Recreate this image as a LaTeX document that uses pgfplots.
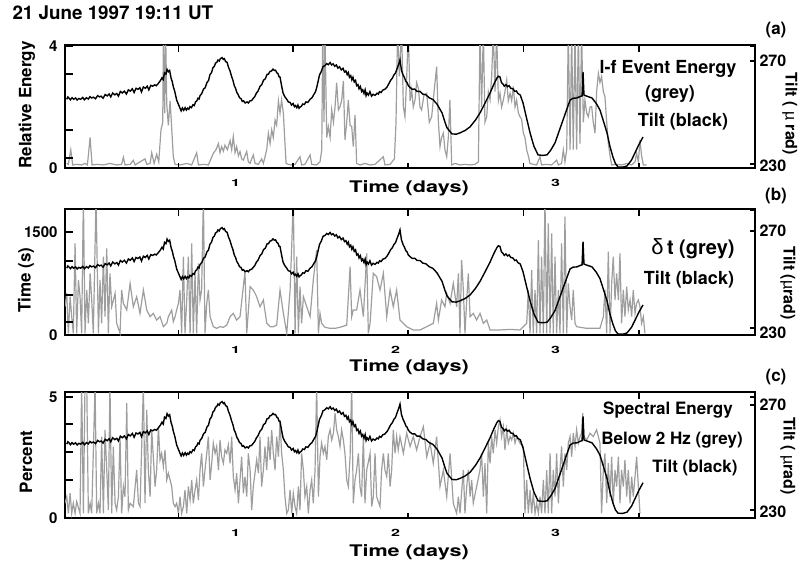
\documentclass[border=0pt]{standalone}
\usepackage{fontspec}
\setmainfont{TeX Gyre Heros}
\newfontfamily\symf{Liberation Sans}
\usepackage{graphicx}
\usepackage{pgfplots}
\usepackage{pgfplotstable}
\pgfplotsset{compat=1.18}

\definecolor{lgrey}{RGB}{158,158,158}

% tilt (black), microradians
\pgfplotstableread{
day tilt
-0.055 255.4
-0.048 256.3
-0.040 255.8
-0.032 255.2
-0.022 256.0
-0.012 255.4
0.000 255.9
0.010 255.1
0.020 255.7
0.032 255.4
0.045 256.1
0.055 255.2
0.068 256.0
0.080 255.5
0.090 256.4
0.100 255.9
0.112 256.2
0.125 255.6
0.138 256.8
0.150 256.3
0.160 256.6
0.172 255.8
0.185 257.2
0.198 256.7
0.210 257.4
0.220 256.3
0.232 257.8
0.245 257.1
0.258 257.6
0.268 256.6
0.280 258.4
0.292 257.8
0.305 258.5
0.318 257.4
0.330 259.0
0.342 258.5
0.355 259.4
0.366 258.0
0.378 259.6
0.390 259.2
0.402 259.8
0.412 258.2
0.424 260.1
0.436 259.6
0.448 260.4
0.458 259.0
0.470 260.7
0.482 260.4
0.495 260.9
0.505 260.6
0.515 261.3
0.530 262.5
0.540 263.6
0.548 262.9
0.556 265.5
0.565 265.0
0.572 266.8
0.580 265.9
0.588 266.4
0.597 263.5
0.605 262.0
0.611 260.2
0.620 258.4
0.632 255.1
0.642 253.6
0.653 252.0
0.660 251.0
0.668 252.1
0.676 251.2
0.685 252.2
0.693 251.3
0.700 252.0
0.708 251.6
0.715 252.6
0.724 252.2
0.734 253.3
0.742 253.0
0.750 254.4
0.758 254.8
0.765 255.8
0.772 255.5
0.778 256.8
0.789 257.6
0.800 259.3
0.810 259.8
0.822 261.9
0.831 262.5
0.840 264.8
0.850 265.6
0.859 267.5
0.867 267.9
0.875 269.2
0.883 269.5
0.890 270.4
0.898 270.0
0.905 270.9
0.916 271.3
0.924 270.6
0.930 270.9
0.938 269.8
0.947 269.5
0.956 267.6
0.965 266.3
0.975 264.2
0.984 262.6
0.992 260.6
1.000 259.6
1.008 258.0
1.016 257.2
1.025 256.0
1.035 255.6
1.042 254.6
1.050 254.8
1.060 254.0
1.072 254.4
1.080 254.0
1.090 254.8
1.100 254.9
1.109 255.6
1.120 256.4
1.130 257.7
1.141 258.6
1.153 260.3
1.164 261.0
1.175 262.7
1.186 263.2
1.197 264.9
1.206 265.0
1.215 266.0
1.225 266.2
1.234 266.9
1.242 266.4
1.250 266.5
1.258 265.5
1.265 265.2
1.272 264.0
1.278 263.9
1.288 260.5
1.297 257.8
1.308 256.4
1.320 255.4
1.330 254.4
1.341 254.2
1.350 253.2
1.360 253.8
1.368 252.6
1.375 253.0
1.383 252.2
1.390 253.2
1.397 252.0
1.403 252.4
1.412 252.8
1.420 253.6
1.430 253.4
1.440 254.4
1.452 254.2
1.466 255.4
1.478 256.0
1.490 257.3
1.500 258.3
1.509 260.3
1.517 262.5
1.525 264.7
1.536 266.0
1.547 267.9
1.558 268.2
1.570 269.0
1.580 268.6
1.591 269.4
1.600 268.5
1.610 268.9
1.620 268.0
1.630 268.5
1.640 267.3
1.650 267.8
1.661 266.6
1.672 267.2
1.681 265.8
1.690 266.2
1.698 264.8
1.705 265.6
1.712 263.8
1.720 264.4
1.727 262.8
1.734 263.8
1.742 262.0
1.750 262.6
1.757 260.6
1.765 261.0
1.772 259.4
1.780 260.3
1.788 258.4
1.795 259.0
1.803 257.6
1.810 259.0
1.816 256.8
1.822 257.8
1.831 257.0
1.840 258.3
1.850 256.6
1.860 257.3
1.872 256.9
1.884 257.7
1.893 257.4
1.900 258.3
1.910 258.0
1.920 258.9
1.933 259.2
1.947 260.1
1.958 261.3
1.970 262.7
1.980 263.4
1.990 264.7
2.000 265.4
2.009 267.0
2.020 268.8
2.028 270.4
2.037 266.5
2.047 264.7
2.056 263.6
2.065 262.2
2.072 261.8
2.080 260.6
2.091 259.9
2.105 259.2
2.120 259.3
2.135 258.4
2.153 258.4
2.170 257.4
2.190 257.1
2.210 256.0
2.234 255.3
2.260 253.5
2.291 250.2
2.310 246.5
2.322 244.5
2.353 242.2
2.380 242.1
2.403 242.6
2.435 243.5
2.466 244.9
2.500 247.5
2.528 250.2
2.560 254.0
2.591 257.8
2.615 261.2
2.634 263.5
2.643 264.2
2.653 263.9
2.662 261.8
2.672 261.2
2.680 260.4
2.690 261.0
2.700 260.2
2.710 260.6
2.720 259.6
2.734 259.4
2.745 258.4
2.755 258.6
2.765 257.6
2.780 257.0
2.797 254.0
2.820 248.0
2.841 242.6
2.865 237.5
2.891 234.2
2.920 234.0
2.947 234.2
2.970 236.0
2.997 238.8
3.020 242.8
3.047 247.5
3.070 251.5
3.091 255.1
3.110 255.8
3.134 255.9
3.155 256.5
3.166 256.7
3.172 265.8
3.178 257.0
3.200 256.5
3.228 255.9
3.255 253.8
3.278 251.3
3.300 247.0
3.322 242.6
3.340 237.5
3.359 233.4
3.375 230.8
3.391 229.6
3.420 229.5
3.447 230.0
3.475 232.2
3.497 235.0
3.520 238.0
3.547 241.0
}\tilt

% l-f event energy (grey), relative
\pgfplotstableread{
day val
-0.055 0.15
-0.045 0.12
-0.030 0.60
-0.018 0.10
0.007 0.12
0.038 0.10
0.059 0.15
0.074 0.10
0.091 1.00
0.103 0.10
0.132 0.12
0.174 0.10
0.215 0.15
0.257 0.10
0.288 0.12
0.299 0.35
0.309 0.10
0.341 0.12
0.361 0.25
0.372 0.10
0.403 0.20
0.434 0.30
0.445 0.12
0.466 0.15
0.476 0.50
0.491 0.15
0.507 0.45
0.520 0.20
0.534 1.25
0.545 1.50
0.549 4.50
0.557 1.80
0.563 4.50
0.570 2.10
0.580 1.40
0.591 2.20
0.601 1.30
0.611 0.37
0.622 0.12
0.653 0.10
0.695 0.15
0.726 0.10
0.757 0.50
0.768 0.10
0.799 0.12
0.830 0.10
0.861 0.48
0.878 0.60
0.893 0.80
0.903 0.50
0.913 0.70
0.924 0.55
0.934 0.75
0.949 0.60
0.966 0.90
0.976 0.60
0.986 1.03
0.997 0.50
1.007 0.70
1.018 0.40
1.028 0.54
1.038 0.30
1.049 0.26
1.059 0.40
1.070 0.54
1.080 0.20
1.091 0.15
1.101 0.30
1.111 0.43
1.122 0.15
1.143 0.12
1.163 0.30
1.174 0.15
1.195 0.60
1.205 1.14
1.216 0.80
1.226 1.25
1.236 1.00
1.247 1.57
1.257 1.40
1.268 2.20
1.278 1.80
1.288 2.23
1.299 1.79
1.309 0.80
1.316 0.15
1.341 0.10
1.372 0.12
1.403 0.37
1.413 0.10
1.434 0.12
1.466 0.43
1.476 0.12
1.507 0.10
1.528 0.20
1.539 0.60
1.545 4.50
1.553 1.50
1.559 4.50
1.570 1.00
1.580 1.36
1.591 1.00
1.601 1.90
1.612 1.50
1.622 2.00
1.632 2.80
1.643 1.90
1.653 2.01
1.663 2.20
1.674 2.85
1.684 0.92
1.695 1.50
1.705 2.23
1.716 1.40
1.726 1.36
1.736 0.70
1.747 1.74
1.757 0.15
1.778 0.10
1.809 0.15
1.841 0.10
1.872 0.12
1.924 0.37
1.934 0.10
1.966 0.12
1.993 0.30
2.003 1.50
2.013 4.50
2.024 3.00
2.028 3.50
2.038 4.50
2.049 2.00
2.059 1.68
2.070 3.00
2.080 4.50
2.091 2.20
2.101 2.56
2.111 2.00
2.122 2.23
2.132 2.80
2.143 2.61
2.153 2.00
2.163 1.90
2.178 2.40
2.195 2.45
2.211 1.50
2.226 1.68
2.241 2.50
2.257 3.32
2.268 1.50
2.278 0.70
2.288 1.00
2.299 1.14
2.309 0.60
2.320 0.37
2.330 1.00
2.340 2.23
2.351 0.10
2.372 0.15
2.403 0.10
2.434 0.12
2.466 0.10
2.497 0.12
2.518 0.20
2.528 4.50
2.538 2.00
2.549 4.50
2.559 1.50
2.570 1.68
2.580 2.50
2.591 2.23
2.601 3.00
2.611 4.50
2.622 2.50
2.632 4.50
2.643 2.20
2.653 2.45
2.663 2.00
2.674 2.23
2.684 2.50
2.695 2.88
2.705 2.20
2.716 2.45
2.726 2.20
2.736 2.67
2.747 2.00
2.757 2.23
2.768 1.80
2.778 1.68
2.788 1.60
2.799 1.14
2.809 1.00
2.820 0.59
2.830 0.40
2.840 0.15
2.861 0.12
2.882 0.10
2.903 0.37
2.913 0.10
2.945 0.12
2.976 0.10
3.007 0.26
3.018 0.10
3.038 0.15
3.049 0.59
3.059 0.20
3.070 0.60
3.080 4.50
3.091 0.60
3.101 4.50
3.111 0.60
3.122 4.50
3.132 0.60
3.143 4.50
3.153 0.80
3.163 4.50
3.174 1.50
3.184 2.23
3.195 1.80
3.205 1.68
3.216 2.00
3.226 2.01
3.236 1.50
3.247 1.14
3.257 2.50
3.268 3.10
3.278 2.80
3.288 3.00
3.299 2.50
3.309 2.34
3.320 1.50
3.330 0.81
3.341 0.40
3.351 0.10
3.382 0.12
3.413 0.10
3.445 0.15
3.476 0.10
3.497 0.20
3.507 0.48
3.518 0.20
3.528 0.92
3.538 0.40
3.549 0.10
3.570 0.10
}\energy

% delta t (grey), seconds
\pgfplotstableread{
day val
-0.066 412
-0.055 607
-0.045 24
-0.034 558
-0.024 267
-0.014 24
-0.003 1335
0.007 24
0.018 801
0.028 558
0.038 24
0.049 2000
0.059 24
0.070 655
0.080 170
0.091 898
0.101 510
0.111 24
0.128 2000
0.143 24
0.153 801
0.163 170
0.174 1140
0.184 267
0.195 1262
0.205 24
0.215 898
0.226 412
0.247 607
0.257 170
0.278 24
0.288 655
0.299 461
0.320 364
0.341 752
0.361 412
0.382 558
0.403 315
0.424 655
0.445 364
0.466 267
0.486 315
0.507 218
0.528 267
0.549 121
0.570 170
0.580 267
0.591 315
0.601 364
0.611 194
0.622 267
0.632 364
0.643 461
0.653 655
0.663 24
0.674 1140
0.684 24
0.695 510
0.705 1140
0.716 24
0.726 1335
0.736 24
0.747 898
0.757 24
0.768 1043
0.778 510
0.788 655
0.799 2000
0.809 24
0.820 461
0.830 655
0.841 267
0.861 121
0.882 97
0.903 121
0.924 112
0.945 145
0.966 267
0.986 315
1.007 218
1.028 267
1.059 922
1.070 24
1.091 704
1.111 655
1.132 558
1.153 412
1.174 510
1.195 170
1.216 121
1.236 121
1.257 145
1.278 655
1.299 315
1.320 24
1.341 655
1.351 1286
1.361 2000
1.372 24
1.382 1140
1.393 24
1.403 704
1.413 170
1.424 558
1.445 412
1.466 267
1.486 801
1.507 1237
1.518 24
1.528 315
1.538 170
1.559 112
1.591 97
1.622 97
1.653 112
1.695 145
1.716 995
1.726 267
1.736 364
1.757 364
1.778 655
1.799 267
1.820 1189
1.830 24
1.841 170
1.861 898
1.882 849
1.903 655
1.924 898
1.945 267
1.966 655
1.986 412
2.007 655
2.028 218
2.070 121
2.111 73
2.153 73
2.195 121
2.236 170
2.257 461
2.268 218
2.288 510
2.309 412
2.320 607
2.341 461
2.361 752
2.382 412
2.393 898
2.403 24
2.413 1092
2.424 655
2.434 24
2.445 510
2.455 898
2.466 267
2.486 315
2.507 218
2.528 315
2.549 170
2.570 218
2.591 73
2.653 73
2.716 82
2.778 73
2.820 170
2.830 655
2.841 24
2.851 946
2.861 24
2.872 655
2.882 24
2.893 1383
2.903 24
2.913 1140
2.924 24
2.934 2000
2.945 24
2.955 1626
2.966 24
2.976 1480
2.986 24
2.997 1140
3.007 24
3.018 655
3.028 24
3.038 1335
3.049 24
3.059 1723
3.070 24
3.080 752
3.091 412
3.101 218
3.111 655
3.122 170
3.132 121
3.195 97
3.278 97
3.299 267
3.309 655
3.320 24
3.330 1213
3.341 24
3.351 752
3.361 1140
3.372 510
3.382 898
3.393 510
3.403 1189
3.413 170
3.424 655
3.434 267
3.445 704
3.455 364
3.466 510
3.476 267
3.486 655
3.497 315
3.507 461
3.518 510
3.528 412
3.538 170
3.549 267
3.559 24
}\deltat

% spectral energy below 2 Hz (grey), percent
\pgfplotstableread{
day val
-0.066 0.61
-0.055 0.88
-0.045 0.19
-0.034 1.02
-0.024 0.19
-0.014 0.61
-0.003 0.19
0.007 0.68
0.028 0.19
0.038 5.5
0.049 0.19
0.059 5.5
0.070 5.5
0.080 0.19
0.091 0.61
0.101 0.19
0.122 5.5
0.132 0.19
0.143 0.61
0.153 0.19
0.163 3.36
0.174 0.19
0.184 3.64
0.195 1.98
0.205 0.33
0.215 5.5
0.226 0.19
0.236 2.95
0.247 0.61
0.257 0.33
0.268 0.88
0.278 3.36
0.288 0.19
0.299 1.30
0.309 0.88
0.320 4.74
0.330 0.33
0.341 0.61
0.361 0.47
0.382 1.98
0.393 0.61
0.403 0.47
0.424 5.5
0.434 0.61
0.445 4.46
0.455 1.98
0.466 0.88
0.476 3.64
0.486 2.53
0.497 1.30
0.507 1.98
0.518 3.77
0.528 2.40
0.538 2.67
0.549 2.12
0.559 2.81
0.570 1.57
0.580 1.85
0.591 1.57
0.601 1.30
0.611 0.61
0.622 0.47
0.632 0.61
0.643 0.19
0.653 0.88
0.663 0.19
0.674 0.47
0.684 1.16
0.695 0.19
0.705 1.30
0.716 0.74
0.726 1.57
0.736 0.61
0.747 1.16
0.757 1.57
0.768 0.74
0.778 1.98
0.788 2.67
0.799 1.30
0.809 1.98
0.820 2.67
0.830 3.36
0.841 1.57
0.851 2.26
0.861 3.09
0.872 2.67
0.882 2.95
0.893 1.98
0.903 3.22
0.913 2.53
0.924 2.26
0.934 2.81
0.945 2.67
0.955 3.02
0.966 2.26
0.976 3.36
0.986 1.71
0.997 1.16
1.007 1.85
1.018 0.61
1.028 1.57
1.038 2.53
1.049 1.02
1.059 1.71
1.070 0.88
1.080 2.67
1.091 1.98
1.101 0.33
1.111 1.30
1.132 2.40
1.143 1.85
1.153 3.36
1.163 1.30
1.174 1.98
1.184 2.95
1.195 1.98
1.205 3.36
1.216 2.40
1.226 3.64
1.236 2.67
1.247 1.98
1.257 3.36
1.268 2.53
1.278 4.05
1.288 2.67
1.299 1.98
1.309 0.88
1.320 0.19
1.330 0.33
1.341 1.16
1.351 0.19
1.361 1.02
1.372 0.47
1.382 0.19
1.393 1.30
1.403 0.33
1.413 2.67
1.424 1.98
1.434 0.88
1.445 1.30
1.455 0.19
1.466 1.16
1.476 1.57
1.486 0.61
1.497 1.98
1.507 5.5
1.518 0.88
1.528 2.53
1.538 3.09
1.549 2.67
1.559 2.95
1.570 2.40
1.580 3.36
1.591 3.64
1.601 3.22
1.612 3.50
1.622 4.33
1.632 3.64
1.643 3.36
1.653 2.95
1.663 3.64
1.674 3.22
1.684 2.67
1.695 1.57
1.705 1.30
1.716 2.53
1.726 5.5
1.736 0.61
1.747 1.57
1.757 1.98
1.768 2.67
1.778 1.30
1.788 0.88
1.799 3.36
1.809 0.61
1.820 1.98
1.841 2.67
1.851 0.47
1.861 0.88
1.872 2.67
1.882 0.88
1.903 0.47
1.913 1.98
1.924 2.67
1.934 1.98
1.945 1.71
1.955 2.67
1.966 1.30
1.976 1.98
1.986 3.64
1.997 2.67
2.007 3.36
2.017 2.81
2.028 3.36
2.049 2.67
2.070 3.50
2.091 2.95
2.111 3.36
2.132 2.81
2.153 3.36
2.174 3.77
2.195 2.53
2.216 3.09
2.236 2.26
2.257 3.36
2.278 1.30
2.299 1.98
2.320 0.88
2.341 2.67
2.361 0.61
2.382 0.19
2.393 0.88
2.403 0.19
2.424 1.98
2.434 0.19
2.445 1.30
2.455 1.98
2.466 0.88
2.476 1.57
2.486 0.61
2.507 1.30
2.528 1.98
2.538 2.67
2.549 0.88
2.559 2.26
2.570 0.19
2.580 3.09
2.591 2.26
2.601 3.36
2.611 2.67
2.622 3.64
2.632 3.09
2.643 3.77
2.653 4.05
2.663 3.36
2.674 3.77
2.684 2.81
2.695 3.64
2.705 3.09
2.716 3.36
2.726 3.22
2.736 3.50
2.747 3.09
2.757 3.36
2.778 3.09
2.799 2.95
2.809 0.19
2.820 1.57
2.830 0.19
2.841 1.16
2.851 0.19
2.861 1.02
2.872 0.19
2.882 0.61
2.893 0.19
2.903 0.88
2.913 0.19
2.924 1.57
2.934 0.19
2.945 1.98
2.955 0.19
2.966 2.67
2.976 0.19
2.986 1.98
2.997 0.88
3.007 2.67
3.018 0.61
3.028 1.98
3.038 2.95
3.049 1.30
3.059 2.67
3.070 1.98
3.080 3.09
3.091 3.36
3.101 2.53
3.111 3.50
3.122 2.95
3.132 3.64
3.143 3.09
3.153 3.36
3.163 3.50
3.170 4.33
3.178 3.36
3.195 3.22
3.216 3.50
3.236 3.36
3.257 3.64
3.278 3.09
3.288 0.19
3.299 1.98
3.309 2.67
3.320 0.61
3.330 2.26
3.341 0.88
3.351 2.53
3.361 0.61
3.372 1.98
3.382 1.30
3.393 2.53
3.403 0.61
3.413 1.98
3.424 1.30
3.434 2.40
3.445 0.88
3.455 1.98
3.466 0.61
3.476 1.71
3.486 0.88
3.497 1.71
3.507 2.53
3.518 1.30
3.528 0.19
}\spectral

\pgfplotsset{
  panel/.style={
    width=690pt, scale only axis,
    xmin=-0.066, xmax=4.247,
    clip mode=individual,
    tick align=inside, xtick pos=both, ytick pos=left,
    xtick={0.6425,1.361,2.08,2.80,3.52}, xticklabels={},
    tickwidth=0pt, subtickwidth=0pt,
    axis line style={line width=1.8pt},
    yticklabel style={font=\fontsize{15}{15}\selectfont, xshift=-4pt},
    /pgf/number format/assume math mode=true,
    /pgf/number format/1000 sep={},
  },
  tiltax/.style={
    width=690pt, scale only axis,
    xmin=-0.066, xmax=4.247,
    axis x line=none, axis y line*=right, tick align=inside,
    ytick={230,270}, tickwidth=0pt,
    axis line style={line width=1.8pt},
    yticklabel style={font=\fontsize{16}{16}\selectfont, xshift=1pt},
    /pgf/number format/assume math mode=true,
  },
  grey/.style={lgrey, line width=1.2pt},
  blk/.style={black, line width=1.4pt},
}
\tikzset{
  daylab/.style={font=\fontsize{10}{10}\selectfont, yshift=-15pt},
  tk/.style={black, line width=1.7pt},
}

\newcommand{\dlab}[1]{\scalebox{1.6}[1]{#1}}
% tick marks, placed in the axis' relative coordinates
\newcommand{\xticks}{\pgfplotsinvokeforeach{0.16427,0.33086,0.49757,0.66450,0.83144}{%
  \draw[tk] (rel axis cs:##1,1) -- ++(0pt,-7pt);
  \draw[tk] (rel axis cs:##1,0) -- ++(0pt,5pt);}}
\newcommand{\lticks}[1]{\pgfplotsinvokeforeach{#1}{\draw[tk] (rel axis cs:0,##1) -- ++(8pt,0pt);}}
\newcommand{\rticks}[1]{\pgfplotsinvokeforeach{#1}{\draw[tk] (rel axis cs:1,##1) -- ++(-5pt,0pt);}}

\begin{document}
\bfseries
\begin{tikzpicture}
\useasboundingbox (0pt,0pt) rectangle (803pt,566pt);

% ---- (a)
\begin{axis}[panel, at={(65pt,398pt)}, anchor=south west, height=123pt,
  ymin=0, ymax=4.03, ytick={0,4}, minor ytick={0.33,1.25,3.08}]
  \addplot[grey] table[x=day, y=val] {\energy};
  \node[daylab] at (axis cs:1,0) {\dlab{1}};
  \node[daylab] at (axis cs:3,0) {\dlab{3}};
  \xticks
  \lticks{0.0819,0.3102,0.7643,0.9926}
  \rticks{0.9926,0.870,0.03}
\end{axis}
\begin{axis}[tiltax, at={(65pt,398pt)}, anchor=south west, height=123pt,
  ymin=229.2, ymax=276.1]
  \addplot[blk] table[x=day, y=tilt] {\tilt};
\end{axis}

% ---- (b)
\begin{axis}[panel, at={(65pt,231pt)}, anchor=south west, height=126pt,
  ymin=0, ymax=1835, ytick={0,1500}, minor ytick={189,583,1078}]
  \addplot[grey] table[x=day, y=val] {\deltat};
  \node[daylab] at (axis cs:1,0) {\dlab{1}};
  \node[daylab] at (axis cs:2,0) {\dlab{2}};
  \node[daylab] at (axis cs:3,0) {\dlab{3}};
  \xticks
  \lticks{0.103,0.3177,0.5875,0.8174}
  \rticks{0.99,0.826,0.056}
\end{axis}
\begin{axis}[tiltax, at={(65pt,231pt)}, anchor=south west, height=126pt,
  ymin=229.2, ymax=278.6]
  \addplot[blk] table[x=day, y=tilt] {\tilt};
\end{axis}

% ---- (c)
\begin{axis}[panel, at={(65pt,48pt)}, anchor=south west, height=126pt,
  ymin=0, ymax=5.2, ytick={0,5}, minor ytick={1.57,2.73,3.88}]
  \addplot[grey] table[x=day, y=val] {\spectral};
  \node[daylab] at (axis cs:1,0) {\dlab{1}};
  \node[daylab] at (axis cs:2,0) {\dlab{2}};
  \node[daylab] at (axis cs:3,0) {\dlab{3}};
  \xticks
  \lticks{0.3019,0.525,0.7462,0.9615}
  \rticks{0.96,0.896,0.063}
\end{axis}
\begin{axis}[tiltax, at={(65pt,48pt)}, anchor=south west, height=126pt,
  ymin=227.8, ymax=274.9]
  \addplot[blk] table[x=day, y=tilt] {\tilt};
\end{axis}

% titles and labels
\node[anchor=west, font=\fontsize{18.8}{18.8}\selectfont] at (9pt,553pt) {21 June 1997 19:11 UT};
\foreach \lab/\yy in {a/536, b/370, c/189}
  \node[font=\fontsize{17}{17}\selectfont] at (776pt,\yy pt) {(\lab)};

\node[rotate=90, font=\fontsize{17}{17}\selectfont] at (27pt,461pt) {Relative Energy};
\node[rotate=90, font=\fontsize{17}{17}\selectfont] at (26pt,286pt) {Time (s)};
\node[rotate=90, font=\fontsize{17}{17}\selectfont] at (26pt,104pt) {Percent};

\node[rotate=-90, font=\fontsize{16}{16}\selectfont] at (790pt,452pt) {Tilt ( {\symf\mdseries µ} rad)};
\node[rotate=-90, font=\fontsize{16}{16}\selectfont] at (788pt,283pt) {Tilt ({\symf\mdseries µ}rad)};
\node[rotate=-90, font=\fontsize{16}{16}\selectfont] at (788pt,110pt) {Tilt ( {\symf\mdseries µ}rad)};

\foreach \yy in {378, 199, 14}
  \node[font=\fontsize{16}{16}\selectfont] at (409pt,\yy pt) {\scalebox{1.35}[1]{Time (days)}};

% legends
\node[font=\fontsize{18}{18}\selectfont] at (668pt,497pt) {l-f Event Energy};
\node[font=\fontsize{18}{18}\selectfont] at (670pt,472pt) {(grey)};
\node[font=\fontsize{18}{18}\selectfont] at (683pt,444pt) {Tilt (black)};

\node[font=\fontsize{20}{20}\selectfont] at (693pt,317pt) {{\symf\mdseries\fontsize{22}{22}\selectfont δ}\,t (grey)};
\node[font=\fontsize{18}{18}\selectfont] at (689pt,286pt) {Tilt (black)};

\node[font=\fontsize{17}{17}\selectfont] at (668pt,156pt) {Spectral Energy};
\node[font=\fontsize{17}{17}\selectfont] at (672pt,126pt) {Below 2 Hz (grey)};
\node[font=\fontsize{17}{17}\selectfont] at (695pt,98pt) {Tilt (black)};
\end{tikzpicture}
\end{document}
